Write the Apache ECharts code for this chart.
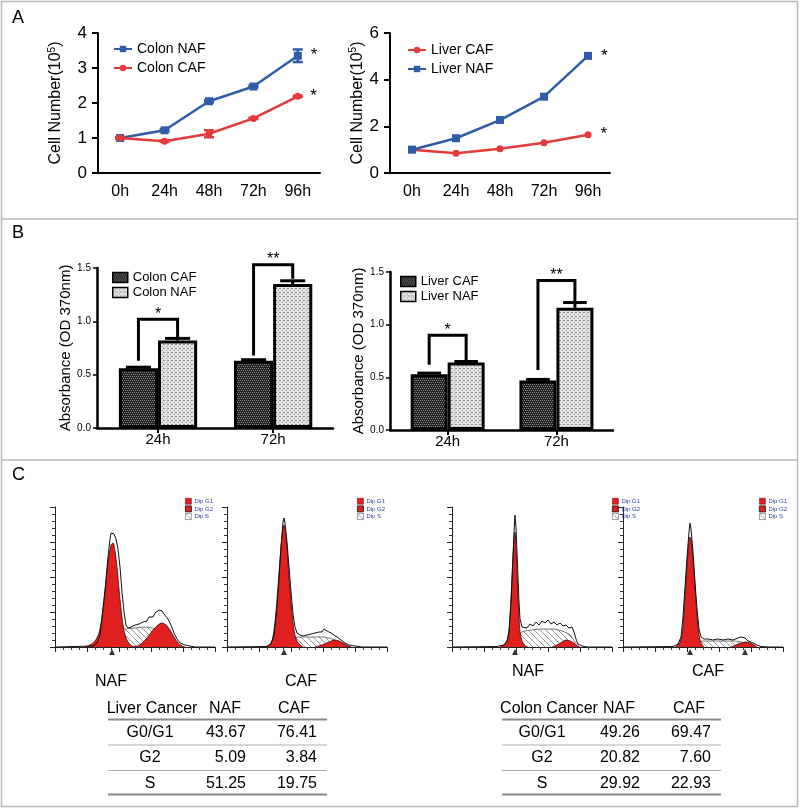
<!DOCTYPE html>
<html>
<head>
<meta charset="utf-8">
<script src="https://cdn.jsdelivr.net/npm/echarts@6/dist/echarts.min.js"></script>
<style>
  html, body { margin: 0; padding: 0; background: #fff; }
  #chart { width: 800px; height: 808px; }
</style>
</head>
<body>
<div id="chart"></div>
<script>
// ── Panel A: cell growth curves ───────────────────────────────────────────────
var hours = ['0h', '24h', '48h', '72h', '96h'];
var colonNAF = [1.0, 1.22, 2.05, 2.47, 3.35];
var colonNAFErr = [0.02, 0.03, 0.03, 0.03, 0.18];
var colonCAF = [1.0, 0.91, 1.12, 1.56, 2.19];
var colonCAFErr = [0.02, 0.02, 0.10, 0.02, 0.02];
var liverCAF = [1.0, 0.85, 1.04, 1.30, 1.64];
var liverNAF = [1.0, 1.49, 2.27, 3.27, 5.02];

// ── Panel B: absorbance (OD 370nm) ────────────────────────────────────────────
var bTimes = ['24h', '72h'];
var colonCAFAbs = [0.56, 0.63];
var colonCAFAbsErr = [0.01, 0.01];
var colonNAFAbs = [0.82, 1.35];
var colonNAFAbsErr = [0.02, 0.03];
var liverCAFAbs = [0.53, 0.47];
var liverCAFAbsErr = [0.01, 0.01];
var liverNAFAbs = [0.64, 1.16];
var liverNAFAbsErr = [0.01, 0.05];
// significance brackets: [time index, left foot, top, right foot, mark]
var colonBrackets = [[0, 0.63, 1.02, 0.85, '*'], [1, 0.68, 1.53, 1.40, '**']];
var liverBrackets = [[0, 0.62, 0.90, 0.66, '*'], [1, 0.57, 1.42, 1.22, '**']];

// ── Panel C: DNA histograms, [channel, count] ─────────────────────────────────
var liverNafTotal = [[0,0],[38,1],[42,4],[45,12],[47,30],[50,57],[53,90],[55,108],[56,114],[57,112],[58,116],[59,113],[61,108],[63,98],[65,80],[67,55],[69,35],[71,22],[73,19],[74,21],[76,20],[78,19],[80,22],[82,21],[84,23],[86,22],[88,25],[90,27],[92,26],[94,30],[96,31],[98,30],[100,34],[102,33],[104,37],[105,35],[107,36],[109,33],[111,31],[113,28],[116,22],[119,14],[122,8],[125,4],[130,2],[135,1],[140,0],[160,0]];
var liverNafG1 = [[30,0],[35,2],[40,6],[44,14],[47,30],[50,55],[53,85],[56,102],[58,104],[60,96],[62,80],[64,58],[66,38],[68,22],[70,12],[73,5],[77,1],[82,0]];
var liverNafG2 = [[80,0],[86,3],[92,9],[98,17],[103,22],[107,24],[111,22],[115,17],[119,10],[123,4],[127,1],[130,0]];
var liverNafS = [[45,0],[50,8],[55,14],[60,17],[70,18],[80,19],[90,20],[100,18],[110,12],[118,5],[125,0]];

var liverCafTotal = [[0,0],[40,0.5],[44,3],[47,12],[50,40],[52,70],[54,100],[56,125],[57,129],[58,124],[60,105],[62,80],[64,55],[66,33],[68,20],[70,14],[73,12],[76,11],[78,13],[80,12],[82,11],[84,13],[86,12],[88,14],[90,13],[92,15],[95,15],[97,18],[98,17],[100,16],[102,15],[104,14],[107,12],[110,10],[114,7],[118,4],[122,2],[128,1],[135,0],[160,0]];
var liverCafG1 = [[38,0],[42,2],[45,6],[48,25],[51,60],[54,100],[56,120],[57,122],[59,110],[61,85],[63,58],[65,34],[67,17],[69,8],[72,3],[76,0]];
var liverCafG2 = [[88,0],[95,2],[102,5],[108,7],[112,6],[116,4],[120,1.5],[124,0]];
var liverCafS = [[50,0],[58,6],[66,9],[75,10],[85,10],[95,10],[105,8],[112,5],[118,2],[124,0]];

var colonNafTotal = [[0,0],[45,0.5],[52,2],[55,6],[57,15],[59,45],[61,90],[62,115],[63,132],[64,120],[65,95],[66,70],[67,45],[68,28],[70,20],[72,22],[75,19],[78,23],[81,21],[84,25],[87,22],[90,26],[93,24],[96,27],[99,23],[102,25],[105,22],[108,24],[111,21],[114,22],[117,19],[120,20],[122,15],[124,8],[126,3],[130,1],[135,0],[160,0]];
var colonNafG1 = [[48,0],[53,3],[56,10],[58,30],[60,70],[62,108],[63,115],[64,100],[65,75],[66,50],[67,30],[68,15],[70,6],[73,1],[76,0]];
var colonNafG2 = [[100,0],[105,2],[110,5],[114,7],[118,6],[122,4],[125,1],[128,0]];
var colonNafS = [[60,0],[65,10],[70,15],[80,17],[90,18],[100,18],[110,16],[118,12],[123,5],[127,0]];

var colonCafTotal = [[0,0],[50,0.5],[55,3],[58,10],[60,30],[62,60],[64,90],[66,115],[67,124],[68,118],[70,95],[72,65],[74,38],[76,18],[78,10],[81,8],[85,8],[90,7],[95,8],[100,7],[105,8],[110,7],[115,9],[118,10],[120,12],[122,9],[125,6],[130,4],[134,2],[138,0.5],[145,0],[160,0]];
var colonCafG1 = [[52,0],[56,3],[59,12],[61,35],[63,65],[65,95],[67,110],[68,108],[70,88],[72,60],[74,32],[76,12],[78,4],[81,0]];
var colonCafG2 = [[108,0],[113,2],[118,4],[123,5],[127,4],[131,2],[134,0]];
var colonCafS = [[68,0],[74,4],[80,6],[90,6],[100,6],[110,6],[118,5],[125,3],[132,0]];

var histArrows = [[57], [57], [63], [67, 122]];
var histLabels = ['NAF', 'CAF', 'NAF', 'CAF'];

// ── Panel C: cell-cycle tables ────────────────────────────────────────────────
var phases = ['G0/G1', 'G2', 'S'];
var liverPhaseNAF = [43.67, 5.09, 51.25];
var liverPhaseCAF = [76.41, 3.84, 19.75];
var colonPhaseNAF = [49.26, 20.82, 29.92];
var colonPhaseCAF = [69.47, 7.60, 22.93];

// ── Styling ───────────────────────────────────────────────────────────────────
var FONT = '"Liberation Sans", Arial, Helvetica, sans-serif';
var BLUE = '#2f5ca8', RED = '#e63a3a', HRED = '#e01f1f', INK = '#000';
var FRAME = '#b8b8b8';
var BAR_FRAC = 0.34;
var SUF = '\u200b';   // keeps panel B series names apart from panel A

function makePattern(size, draw) {
  var c = document.createElement('canvas');
  c.width = c.height = size;
  draw(c.getContext('2d'), size);
  return { image: c, repeat: 'repeat' };
}
var darkFill = makePattern(4, function (g) {
  g.fillStyle = '#222'; g.fillRect(0, 0, 4, 4);
  g.fillStyle = '#8a8a8a';
  g.fillRect(0, 0, 1, 1); g.fillRect(2, 0, 1, 1); g.fillRect(1, 2, 1, 1); g.fillRect(3, 2, 1, 1);
});
var lightFill = makePattern(4, function (g) {
  g.fillStyle = '#e4e4e4'; g.fillRect(0, 0, 4, 4);
  g.fillStyle = '#8c8c8c';
  g.fillRect(0, 0, 1, 1); g.fillRect(2, 2, 1, 1); g.fillRect(3, 0, 1, 1);
});
var hatchFill = makePattern(6, function (g) {
  g.fillStyle = '#fff'; g.fillRect(0, 0, 6, 6);
  g.strokeStyle = '#7a7a8a'; g.lineWidth = 0.8;
  g.beginPath(); g.moveTo(0, 0); g.lineTo(6, 6); g.moveTo(-3, 3); g.lineTo(3, 9); g.moveTo(3, -3); g.lineTo(9, 3); g.stroke();
});

// ── Axes ──────────────────────────────────────────────────────────────────────
function growthX(grid) {
  return {
    type: 'category', gridIndex: grid, data: hours, boundaryGap: true,
    axisLine: { lineStyle: { color: INK, width: 2 } },
    axisTick: { alignWithLabel: true, length: 6, lineStyle: { color: INK, width: 2 } },
    axisLabel: { color: INK, fontSize: 16, margin: 11, fontFamily: FONT }
  };
}
function growthY(grid, max, interval, gap) {
  return {
    type: 'value', gridIndex: grid, min: 0, max: max, interval: interval,
    name: 'Cell Number(10{sup|5})', nameLocation: 'middle', nameGap: gap, nameRotate: 90,
    nameTextStyle: {
      color: INK, fontSize: 16, fontFamily: FONT,
      rich: { sup: { fontSize: 10, color: INK, fontFamily: FONT, padding: [0, 0, 8, 0] } }
    },
    axisLine: { show: true, onZero: false, lineStyle: { color: INK, width: 2 } },
    axisTick: { show: true, length: 6, lineStyle: { color: INK, width: 2 } },
    axisLabel: { color: INK, fontSize: 17, margin: 11, fontFamily: FONT },
    splitLine: { show: false }
  };
}
function absX(grid) {
  return {
    type: 'value', gridIndex: grid, min: -0.53, max: 1.52,
    axisLine: { onZero: false, lineStyle: { color: INK, width: 2.5 } },
    axisTick: { show: true, customValues: [0, 1], length: 5, lineStyle: { color: INK, width: 2 } },
    axisLabel: {
      customValues: [0, 1], color: INK, fontSize: 15, margin: 4, fontFamily: FONT,
      formatter: function (v) { return bTimes[Math.round(v)]; }
    },
    splitLine: { show: false }
  };
}
function absY(grid, gap) {
  return {
    type: 'value', gridIndex: grid, min: 0, max: 1.5, interval: 0.5,
    name: 'Absorbance (OD 370nm)', nameLocation: 'middle', nameGap: gap, nameRotate: 90,
    nameTextStyle: { color: INK, fontSize: 15, fontFamily: FONT },
    axisLine: { show: true, onZero: false, lineStyle: { color: INK, width: 2.5 } },
    axisTick: { show: true, length: 4, lineStyle: { color: INK, width: 1.5 } },
    axisLabel: { color: INK, fontSize: 10, margin: 6, fontFamily: FONT,
      formatter: function (v) { return v.toFixed(1); } },
    splitLine: { show: false }
  };
}
function histX(grid) {
  return {
    type: 'value', gridIndex: grid, min: 0, max: 160, interval: 32,
    axisLine: { onZero: false, lineStyle: { color: '#222', width: 1 } },
    axisTick: { length: 5, lineStyle: { color: '#222' } },
    minorTick: { show: true, splitNumber: 4, length: 3, lineStyle: { color: '#333' } },
    axisLabel: { show: false }, splitLine: { show: false }
  };
}
function histY(grid) {
  return {
    type: 'value', gridIndex: grid, min: 0, max: 140, interval: 35,
    axisLine: { show: true, onZero: false, lineStyle: { color: '#222', width: 1 } },
    axisTick: { show: true, length: 5, lineStyle: { color: '#222' } },
    minorTick: { show: true, splitNumber: 5, length: 3, lineStyle: { color: '#333' } },
    axisLabel: { show: false }, splitLine: { show: false }
  };
}

// ── Series helpers ────────────────────────────────────────────────────────────
function withStar(arr) {
  return arr.map(function (v, i) {
    return i === arr.length - 1
      ? { value: v, label: { show: true, formatter: '*', position: 'right', distance: 9,
          fontSize: 17, color: INK, fontFamily: FONT } }
      : v;
  });
}
function growthLine(name, data, grid, color, symbol, size) {
  return {
    type: 'line', name: name, xAxisIndex: grid, yAxisIndex: grid, data: withStar(data),
    color: color, symbol: symbol, symbolSize: size, showAllSymbol: true,
    lineStyle: { color: color, width: 2.5 }, itemStyle: { color: color }, z: 3
  };
}
function errorBars(grid, vals, errs, color) {
  return {
    type: 'custom', xAxisIndex: grid, yAxisIndex: grid, z: 4, silent: true,
    data: vals.map(function (v, i) { return [i, v, errs[i]]; }),
    renderItem: function (params, api) {
      var x = api.value(0), v = api.value(1), e = api.value(2);
      var lo = api.coord([x, v - e]), hi = api.coord([x, v + e]);
      var s = { stroke: color, lineWidth: 2.5 }, w = 5;
      return { type: 'group', children: [
        { type: 'line', shape: { x1: lo[0], y1: lo[1], x2: hi[0], y2: hi[1] }, style: s },
        { type: 'line', shape: { x1: lo[0] - w, y1: lo[1], x2: lo[0] + w, y2: lo[1] }, style: s },
        { type: 'line', shape: { x1: hi[0] - w, y1: hi[1], x2: hi[0] + w, y2: hi[1] }, style: s }
      ] };
    }
  };
}
function absBars(name, grid, vals, fill) {
  return {
    type: 'bar', name: name + SUF, xAxisIndex: grid, yAxisIndex: grid,
    data: vals.map(function (v, i) { return [i, v]; }),
    barWidth: (BAR_FRAC * 100) + '%', barGap: '0%',
    itemStyle: { color: fill, borderColor: INK, borderWidth: 3 }, z: 2
  };
}
function absErr(grid, vals, errs, side) {
  return {
    type: 'custom', xAxisIndex: grid, yAxisIndex: grid, z: 5, silent: true,
    data: vals.map(function (v, i) { return [i, v, errs[i]]; }),
    renderItem: function (params, api) {
      var x = api.value(0), v = api.value(1), e = api.value(2);
      var barW = api.size([1, 0])[0] * BAR_FRAC;
      var base = api.coord([x, v]), top = api.coord([x, v + e]);
      var cx = base[0] + side * barW / 2, half = barW * 0.32;
      var s = { stroke: INK, lineWidth: 3 };
      return { type: 'group', children: [
        { type: 'line', shape: { x1: cx, y1: base[1], x2: cx, y2: top[1] }, style: s },
        { type: 'line', shape: { x1: cx - half, y1: top[1], x2: cx + half, y2: top[1] }, style: s }
      ] };
    }
  };
}
function brackets(grid, list) {
  return {
    type: 'custom', xAxisIndex: grid, yAxisIndex: grid, z: 6, silent: true,
    data: list.map(function (b) { return [b[0], b[1], b[2], b[3]]; }),
    renderItem: function (params, api) {
      var half = api.size([1, 0])[0] * BAR_FRAC / 2;
      var cx = api.coord([api.value(0), 0])[0];
      var xl = cx - half, xr = cx + half;
      var yl = api.coord([0, api.value(1)])[1];
      var yt = api.coord([0, api.value(2)])[1];
      var yr = api.coord([0, api.value(3)])[1];
      return { type: 'group', children: [
        { type: 'polyline', shape: { points: [[xl, yl], [xl, yt], [xr, yt], [xr, yr]] },
          style: { stroke: INK, lineWidth: 3, fill: null } },
        { type: 'text', style: { text: list[params.dataIndex][4], x: (xl + xr) / 2, y: yt + 3,
          align: 'center', verticalAlign: 'bottom', fill: INK, font: '16px ' + FONT } }
      ] };
    }
  };
}
function histSeries(k, total, g1, g2, s) {
  var g = 4 + k;
  var base = { type: 'line', xAxisIndex: g, yAxisIndex: g, showSymbol: false, symbol: 'none', silent: true };
  return [
    Object.assign({}, base, { name: 'Dip S', data: s, smooth: 0.3, z: 2,
      itemStyle: { color: '#9a9aa8' }, lineStyle: { color: '#555', width: 0.8 },
      areaStyle: { color: hatchFill, opacity: 1 } }),
    Object.assign({}, base, { name: 'Dip G1', data: g1, smooth: 0.3, z: 3,
      itemStyle: { color: HRED }, lineStyle: { color: '#3a0a0a', width: 0.8 },
      areaStyle: { color: HRED, opacity: 1 } }),
    Object.assign({}, base, { name: 'Dip G2', data: g2, smooth: 0.3, z: 3,
      itemStyle: { color: HRED }, lineStyle: { color: '#3a0a0a', width: 0.8 },
      areaStyle: { color: HRED, opacity: 1 } }),
    Object.assign({}, base, { name: 'Total', data: total, z: 4,
      lineStyle: { color: '#111', width: 1 } }),
    { type: 'scatter', xAxisIndex: g, yAxisIndex: g, silent: true, clip: false,
      data: histArrows[k].map(function (x) { return [x, 0]; }),
      symbol: 'triangle', symbolSize: [6, 6], symbolOffset: [0, 5], itemStyle: { color: INK }, z: 5 }
  ];
}
function histLegend(left) {
  return {
    left: left, top: 493, orient: 'vertical', itemWidth: 6, itemHeight: 6, itemGap: 1,
    icon: 'rect', selectedMode: false,
    textStyle: { fontSize: 6, color: '#3040a8', fontFamily: FONT, padding: [0, 0, 0, -2] },
    data: [
      { name: 'Dip G1', itemStyle: { color: HRED, borderColor: '#600', borderWidth: 0.5 } },
      { name: 'Dip G2', itemStyle: { color: HRED, borderColor: '#111', borderWidth: 0.8 } },
      { name: 'Dip S', itemStyle: { color: hatchFill, borderColor: '#444', borderWidth: 0.5 } }
    ]
  };
}

// ── Graphic: frames, panel letters, labels, tables ───────────────────────────
function txt(text, x, y, size, align) {
  return { type: 'text', silent: true, style: { text: text, x: x, y: y, fill: INK,
    font: size + 'px ' + FONT, align: align || 'left', verticalAlign: 'middle' } };
}
function hline(x1, x2, y, w, color) {
  return { type: 'line', silent: true, shape: { x1: x1, y1: y, x2: x2, y2: y },
    style: { stroke: color, lineWidth: w } };
}
function table(title, naf, caf, x1, x2, col) {
  var out = [
    txt(title, col.title, 709, 16, 'center'),
    txt('NAF', col.hNaf, 709, 16, 'center'),
    txt('CAF', col.hCaf, 709, 16, 'center'),
    hline(x1, x2, 719.5, 2, '#8a8a8a'),
    hline(x1, x2, 745, 1, '#b0b0b0'),
    hline(x1, x2, 770.5, 1, '#b0b0b0'),
    hline(x1, x2, 794.5, 2, '#8a8a8a')
  ];
  var rowY = [733, 758, 783.5];
  phases.forEach(function (p, i) {
    out.push(txt(p, col.label, rowY[i], 16, 'center'));
    out.push(txt(naf[i].toFixed(2), col.naf, rowY[i], 16, 'right'));
    out.push(txt(caf[i].toFixed(2), col.caf, rowY[i], 16, 'right'));
  });
  return out;
}
var graphics = [
  { type: 'rect', silent: true, shape: { x: 1.5, y: 1.5, width: 796, height: 805 },
    style: { fill: null, stroke: FRAME, lineWidth: 1.5 } },
  hline(1.5, 797.5, 219, 1.5, FRAME),
  hline(1.5, 797.5, 460, 1.5, FRAME),
  txt('A', 12, 18, 18, 'left'),
  txt('B', 12, 233, 18, 'left'),
  txt('C', 12, 475, 18, 'left'),
  txt(histLabels[0], 95, 682, 16, 'left'),
  txt(histLabels[1], 285, 682, 16, 'left'),
  txt(histLabels[2], 512, 672, 16, 'left'),
  txt(histLabels[3], 692, 672, 16, 'left')
].concat(
  table('Liver Cancer', liverPhaseNAF, liverPhaseCAF, 108, 327,
    { title: 152, hNaf: 225, hCaf: 294, label: 150, naf: 246, caf: 317 }),
  table('Colon Cancer', colonPhaseNAF, colonPhaseCAF, 502, 721,
    { title: 549, hNaf: 619, hCaf: 689, label: 542, naf: 640, caf: 711 })
);

// ── Build chart ───────────────────────────────────────────────────────────────
var chart = echarts.init(document.getElementById('chart'), null, { renderer: 'canvas' });
var stripSuf = function (n) { return n.replace(SUF, ''); };

chart.setOption({
  backgroundColor: '#fff',
  animation: false,
  textStyle: { fontFamily: FONT },
  grid: [
    { left: 98, top: 33, width: 222, height: 140 },
    { left: 390, top: 33, width: 220, height: 140 },
    { left: 97, top: 268, width: 236, height: 160 },
    { left: 390, top: 272, width: 223, height: 158 },
    { left: 55, top: 507, width: 160, height: 140 },
    { left: 227, top: 507, width: 160, height: 140 },
    { left: 452, top: 507, width: 160, height: 140 },
    { left: 623, top: 507, width: 160, height: 140 }
  ],
  xAxis: [growthX(0), growthX(1), absX(2), absX(3), histX(4), histX(5), histX(6), histX(7)],
  yAxis: [growthY(0, 4, 1, 33), growthY(1, 6, 2, 23), absY(2, 24), absY(3, 22),
    histY(4), histY(5), histY(6), histY(7)],
  legend: [
    { left: 108, top: 37, orient: 'vertical', itemWidth: 18, itemHeight: 8, itemGap: 5,
      selectedMode: false, textStyle: { fontSize: 14, color: INK, fontFamily: FONT },
      data: ['Colon NAF', 'Colon CAF'] },
    { left: 402, top: 38, orient: 'vertical', itemWidth: 18, itemHeight: 8, itemGap: 5,
      selectedMode: false, textStyle: { fontSize: 14, color: INK, fontFamily: FONT },
      data: ['Liver CAF', 'Liver NAF'] },
    { left: 107, top: 266, orient: 'vertical', icon: 'rect', itemWidth: 15, itemHeight: 10, itemGap: 2,
      selectedMode: false, formatter: stripSuf, itemStyle: { borderWidth: 1.5 },
      textStyle: { fontSize: 13, color: INK, fontFamily: FONT },
      data: ['Colon CAF' + SUF, 'Colon NAF' + SUF] },
    { left: 395, top: 270, orient: 'vertical', icon: 'rect', itemWidth: 15, itemHeight: 10, itemGap: 2,
      selectedMode: false, formatter: stripSuf, itemStyle: { borderWidth: 1.5 },
      textStyle: { fontSize: 13, color: INK, fontFamily: FONT },
      data: ['Liver CAF' + SUF, 'Liver NAF' + SUF] },
    histLegend(180), histLegend(352), histLegend(607), histLegend(754)
  ],
  series: [
    growthLine('Colon NAF', colonNAF, 0, BLUE, 'rect', 8),
    growthLine('Colon CAF', colonCAF, 0, RED, 'circle', 7),
    errorBars(0, colonNAF, colonNAFErr, BLUE),
    errorBars(0, colonCAF, colonCAFErr, RED),
    growthLine('Liver CAF', liverCAF, 1, RED, 'circle', 7),
    growthLine('Liver NAF', liverNAF, 1, BLUE, 'rect', 8),

    absBars('Colon CAF', 2, colonCAFAbs, darkFill),
    absBars('Colon NAF', 2, colonNAFAbs, lightFill),
    absErr(2, colonCAFAbs, colonCAFAbsErr, -1),
    absErr(2, colonNAFAbs, colonNAFAbsErr, 1),
    brackets(2, colonBrackets),
    absBars('Liver CAF', 3, liverCAFAbs, darkFill),
    absBars('Liver NAF', 3, liverNAFAbs, lightFill),
    absErr(3, liverCAFAbs, liverCAFAbsErr, -1),
    absErr(3, liverNAFAbs, liverNAFAbsErr, 1),
    brackets(3, liverBrackets)
  ].concat(
    histSeries(0, liverNafTotal, liverNafG1, liverNafG2, liverNafS),
    histSeries(1, liverCafTotal, liverCafG1, liverCafG2, liverCafS),
    histSeries(2, colonNafTotal, colonNafG1, colonNafG2, colonNafS),
    histSeries(3, colonCafTotal, colonCafG1, colonCafG2, colonCafS)
  ),
  graphic: graphics
});
window.addEventListener('resize', function () { chart.resize(); });
</script>
</body>
</html>
